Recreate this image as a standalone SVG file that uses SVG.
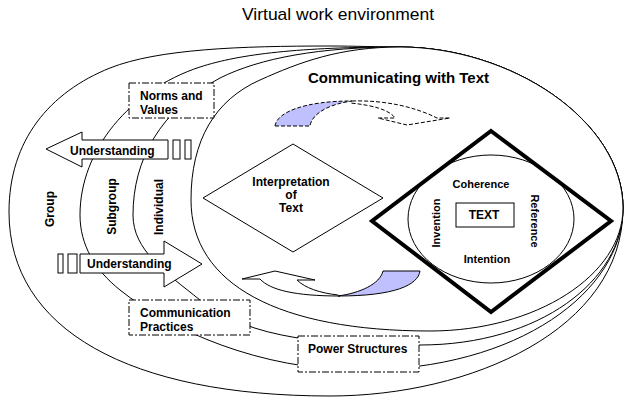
<svg xmlns="http://www.w3.org/2000/svg" width="634" height="408" viewBox="0 0 634 408">
<style>
.ring{fill:#fff;stroke:#000;stroke-width:1}
.lbl{font-family:"Liberation Sans",Arial,sans-serif;font-weight:bold;font-size:12px;fill:#000}
.sm{font-size:11px}
.big{font-size:15px}
.box{fill:#fff;stroke:#000;stroke-width:1;stroke-dasharray:7,2,2,2}
.thin{fill:#fff;stroke:#000;stroke-width:1}
.dash{stroke:#000;stroke-width:1;stroke-dasharray:4,2}
.shade{fill:#C0C0FF}
</style>
<rect width="634" height="408" fill="#fff"/>
<text x="242" y="20" font-family="Liberation Sans, Arial, sans-serif" font-size="17" textLength="192" lengthAdjust="spacingAndGlyphs">Virtual work environment</text>

<g id="group">
<path class="ring" d="M9,212 C9,140 50,92 110,68 C158,49 240,46 330,46 C355,46 380,47 400,47 C510,47 623,120 623,208 C623,330 470,396 330,396 C130,396 9,330 9,212 Z"/>
<text class="lbl" transform="translate(54,209) rotate(-90)" text-anchor="middle">Group</text>
</g>
<g id="subgroup">
<path class="ring" d="M80,215 C80,150 130,90 200,67 C240,54 300,47 400,47 C510,47 623,120 623,208 C623,290 520,370 360,370 C260,370 170,330 120,290 C95,270 80,245 80,215 Z"/>
<text class="lbl" transform="translate(116,206.5) rotate(-90)" text-anchor="middle">Subgroup</text>
</g>
<g id="individual">
<path class="ring" d="M133,215 C133,160 160,110 220,78 C260,58 320,47 400,47 C510,47 623,120 623,208 C623,280 540,345 420,345 C330,345 250,340 200,300 C165,272 133,250 133,215 Z"/>
<text class="lbl" transform="translate(163,207) rotate(-90)" text-anchor="middle">Individual</text>
</g>
<g id="communicating">
<path class="ring" d="M191,200 C191,140 215,100 260,80 C300,62 340,47 400,47 C510,47 623,120 623,208 C623,275 536,331 430,331 C280,331 191,285 191,200 Z"/>
<text class="lbl big" x="308" y="83" textLength="181" lengthAdjust="spacing">Communicating with Text</text>
</g>

<g id="norms">
<rect class="box" x="129" y="83" width="85" height="35"/>
<text class="lbl" x="140" y="100">Norms and</text>
<text class="lbl" x="140" y="114">Values</text>
</g>
<g id="practices">
<rect class="box" x="129" y="300" width="121" height="35"/>
<text class="lbl" x="140" y="317">Communication</text>
<text class="lbl" x="140" y="331">Practices</text>
</g>
<g id="power">
<rect class="box" x="298" y="336" width="121" height="36"/>
<text class="lbl" x="308" y="353">Power Structures</text>
</g>

<g id="interpretation">
<polygon class="thin" points="293,144 383,198 293,252 203,198"/>
<text class="lbl" x="291" y="186" text-anchor="middle">Interpretation</text>
<text class="lbl" x="291" y="199" text-anchor="middle">of</text>
<text class="lbl" x="291" y="212" text-anchor="middle">Text</text>
</g>

<g id="text-core">
<polygon points="491,131 611,221 491,312 372,221" fill="#fff" stroke="#000" stroke-width="4" stroke-linejoin="miter"/>
<ellipse cx="491" cy="219" rx="83" ry="64" fill="none" stroke="#000" stroke-width="1"/>
<rect class="thin" x="456" y="203" width="58" height="24"/>
<text class="lbl" x="484" y="219" text-anchor="middle">TEXT</text>
<text class="lbl sm" x="481" y="188" text-anchor="middle">Coherence</text>
<text class="lbl sm" x="487" y="263" text-anchor="middle">Intention</text>
<text class="lbl sm" transform="translate(440,223) rotate(-90)" text-anchor="middle">Invention</text>
<text class="lbl sm" transform="translate(531,221) rotate(90)" text-anchor="middle">Reference</text>
</g>

<g id="connectors">
<g id="understanding-left">
<polygon class="thin" points="46,149 82,132 82,140 168,140 168,159 82,159 82,167"/>
<rect class="thin" x="173" y="140" width="7" height="19"/>
<rect class="thin" x="185" y="140" width="6" height="19"/>
<text class="lbl" x="70" y="155">Understanding</text>
</g>
<g id="understanding-right">
<polygon class="thin" points="80,254 164,254 164,241 202,264 164,287 164,273 80,273"/>
<rect class="thin" x="58" y="254" width="5" height="19"/>
<rect class="thin" x="68" y="254" width="9" height="19"/>
<text class="lbl" x="87" y="268">Understanding</text>
</g>
<g id="curved-top">
<path class="shade dash" d="M275,126 C277,112 305,101 352,101 C330,104 312,113 310,126 Z"/>
<path class="dash" fill="none" d="M352,101 C385,100 415,107 437,118 L450,118 L407,125 L378,118 L395,118 C390,110 372,105 350,103"/>
</g>
<g id="curved-bottom">
<path class="shade" stroke="#000" stroke-width="1" d="M338,296 C360,293 380,284 383,271 L420,271 C418,285 395,296 338,296 Z"/>
<path fill="none" stroke="#000" stroke-width="1" d="M338,295 C320,293 305,288 297,280 L315,280 L275,271 L242,279 L260,279 C270,290 295,296 340,296"/>
</g>
</g>
</svg>
